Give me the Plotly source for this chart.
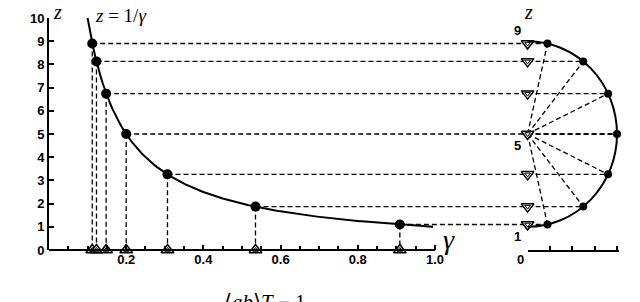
import plotly.graph_objects as go

# ---- data ----
z_nodes = [8.90, 8.13, 6.74, 5.00, 3.26, 1.87, 1.10]          # node heights
gamma_nodes = [0.112, 0.123, 0.148, 0.200, 0.307, 0.535, 0.909]  # gamma = 1/z at nodes
circle_x = [0.89, 2.49, 3.60, 4.00, 3.60, 2.49, 0.89]          # semicircle abscissa of nodes
center_z = 5.0
gamma_ticks = [0.2, 0.4, 0.6, 0.8, 1.0]
gamma_tick_text = ["0.2", "0.4", "0.6", "0.8", "1.0"]
z_ticks = list(range(0, 11))

# curve z = 1/gamma
curve_gamma = [0.100 + 0.005 * i for i in range(180)]
curve_z = [1.0 / g for g in curve_gamma]

W, H = 640, 302
X_LEFT_MAX = 1.24   # left axis value at the right panel's z axis
BLACK = "black"
DASH = "5px,3px"

fig = go.Figure()

# curve
fig.add_trace(go.Scatter(x=curve_gamma, y=curve_z, mode="lines",
                         line=dict(color=BLACK, width=2), xaxis="x", yaxis="y"))

# vertical dashed drops
for g, z in zip(gamma_nodes, z_nodes):
    fig.add_trace(go.Scatter(x=[g, g], y=[z, 0], mode="lines",
                             line=dict(color=BLACK, width=1.3, dash=DASH),
                             xaxis="x", yaxis="y"))
# horizontal dashed lines, left part
for g, z in zip(gamma_nodes, z_nodes):
    fig.add_trace(go.Scatter(x=[g, X_LEFT_MAX], y=[z, z], mode="lines",
                             line=dict(color=BLACK, width=1.3, dash=DASH),
                             xaxis="x", yaxis="y"))
# horizontal dashed lines, right part
for cx, z in zip(circle_x, z_nodes):
    fig.add_trace(go.Scatter(x=[0, cx], y=[z, z], mode="lines",
                             line=dict(color=BLACK, width=1.3, dash=DASH),
                             xaxis="x2", yaxis="y"))
# radial dashed lines
for cx, z in zip(circle_x, z_nodes):
    fig.add_trace(go.Scatter(x=[0, cx], y=[center_z, z], mode="lines",
                             line=dict(color=BLACK, width=1.3, dash=DASH),
                             xaxis="x2", yaxis="y"))

# curve points
fig.add_trace(go.Scatter(x=gamma_nodes, y=z_nodes, mode="markers",
                         marker=dict(color=BLACK, size=10), cliponaxis=False,
                         xaxis="x", yaxis="y"))
# semicircle points
fig.add_trace(go.Scatter(x=circle_x, y=z_nodes, mode="markers",
                         marker=dict(color=BLACK, size=8), cliponaxis=False,
                         xaxis="x2", yaxis="y"))
# triangles on gamma axis
fig.add_trace(go.Scatter(x=gamma_nodes, y=[0] * len(gamma_nodes), mode="markers",
                         marker=dict(symbol="triangle-up", size=11, color="white",
                                     line=dict(color=BLACK, width=1.5)),
                         cliponaxis=False, xaxis="x", yaxis="y"))
fig.add_trace(go.Scatter(x=gamma_nodes, y=[0] * len(gamma_nodes), mode="markers",
                         marker=dict(symbol="triangle-up-open", size=5, color=BLACK,
                                     line=dict(width=1)),
                         cliponaxis=False, xaxis="x", yaxis="y"))
# triangles on right z axis
fig.add_trace(go.Scatter(x=[0] * len(z_nodes), y=z_nodes, mode="markers",
                         marker=dict(symbol="triangle-down", size=11, color="white",
                                     line=dict(color=BLACK, width=1.5)),
                         cliponaxis=False, xaxis="x2", yaxis="y"))
fig.add_trace(go.Scatter(x=[0] * len(z_nodes), y=z_nodes, mode="markers",
                         marker=dict(symbol="triangle-down-open", size=5, color=BLACK,
                                     line=dict(width=1)),
                         cliponaxis=False, xaxis="x2", yaxis="y"))

# semicircle (left half clipped by the right panel's plot area)
fig.add_shape(type="circle", xref="x2", yref="y",
              x0=-4, x1=4, y0=center_z - 4, y1=center_z + 4,
              line=dict(color=BLACK, width=2))
# gamma axis line
fig.add_shape(type="line", xref="x", yref="paper", x0=0, x1=1.0,
              y0=52 / H, y1=52 / H, line=dict(color=BLACK, width=2))

x_dom_left = [49 / W, 527.6 / W]
x2_dom = [527.6 / W, (527.6 + 4.1 * 22.35) / W]
y_dom = [52 / H, 284 / H]

TICKFONT = dict(family="Liberation Sans", size=13, weight="bold", color=BLACK)

fig.update_layout(
    width=W, height=H, margin=dict(l=0, r=0, t=0, b=0, autoexpand=False),
    paper_bgcolor="white", plot_bgcolor="rgba(0,0,0,0)",
    showlegend=False,
    font=dict(family="Liberation Sans", color=BLACK),
    xaxis=dict(domain=x_dom_left, range=[0, X_LEFT_MAX], anchor="y", automargin=False,
               showgrid=False, zeroline=False, showline=False,
               tickmode="array", tickvals=gamma_ticks, ticktext=gamma_tick_text,
               ticks="inside", ticklen=5, tickwidth=1.5, tickcolor=BLACK,
               tickfont=TICKFONT,
               minor=dict(tickmode="array",
                          tickvals=[0.05, 0.1, 0.15, 0.25, 0.3, 0.35, 0.45, 0.5, 0.55,
                                    0.65, 0.7, 0.75, 0.85, 0.9, 0.95],
                          ticks="inside", ticklen=4, tickwidth=1.5, tickcolor=BLACK,
                          showgrid=False)),
    xaxis2=dict(domain=x2_dom, range=[0, 4.1], anchor="y", automargin=False,
                showgrid=False, zeroline=False, showline=True, linewidth=2,
                linecolor=BLACK, tickmode="array", tickvals=[1, 2, 3, 4],
                ticks="inside", ticklen=4, tickwidth=1.5, tickcolor=BLACK,
                showticklabels=False),
    yaxis=dict(domain=y_dom, range=[0, 10], anchor="x", automargin=False,
               showgrid=False, zeroline=False, showline=True, linewidth=2,
               linecolor=BLACK, tickmode="array", tickvals=z_ticks,
               ticks="inside", ticklen=5, tickwidth=1.5, tickcolor=BLACK,
               tickfont=TICKFONT),
    yaxis2=dict(domain=y_dom, range=[0, 10], anchor="x2", overlaying="y", automargin=False,
                showgrid=False, zeroline=False, showline=True, linewidth=2,
                linecolor=BLACK, showticklabels=False, ticks=""),
)

def px_ann(text, x, y, size, family="Liberation Serif", xanchor="center", bold=False):
    fig.add_annotation(text=text, xref="paper", yref="paper",
                       x=x / W, y=1 - y / H, xanchor=xanchor, yanchor="middle",
                       showarrow=False,
                       font=dict(family=family, size=size, color=BLACK,
                                 weight="bold" if bold else "normal"))

px_ann("<i>z</i>", 57, 12, 20)
px_ann("<i>z</i> = 1/<i>γ</i>", 93, 15, 19, xanchor="left")
px_ann("<i>z</i>", 528, 12, 20)
px_ann("<i>γ</i>", 449, 239, 28)
px_ann("9", 517, 31, 13, family="Liberation Sans", bold=True)
px_ann("5", 517, 145, 13, family="Liberation Sans", bold=True)
px_ann("1", 517, 236, 13, family="Liberation Sans", bold=True)
px_ann("0", 520, 259, 13, family="Liberation Sans", bold=True)
# partially visible caption at the bottom (cut by the page edge, as in the reference)
fig.add_annotation(text="⟨<i>ab</i>⟩<i>T</i> − 1", xref="paper", yref="paper",
                   x=265 / W, y=1 - 288 / H, xanchor="center", yanchor="top",
                   showarrow=False,
                   font=dict(family="Liberation Serif", size=21, color=BLACK))

fig.write_html("out.html", config={"displayModeBar": False},
               post_script="document.body.style.margin='0';document.body.style.overflow='hidden';")
